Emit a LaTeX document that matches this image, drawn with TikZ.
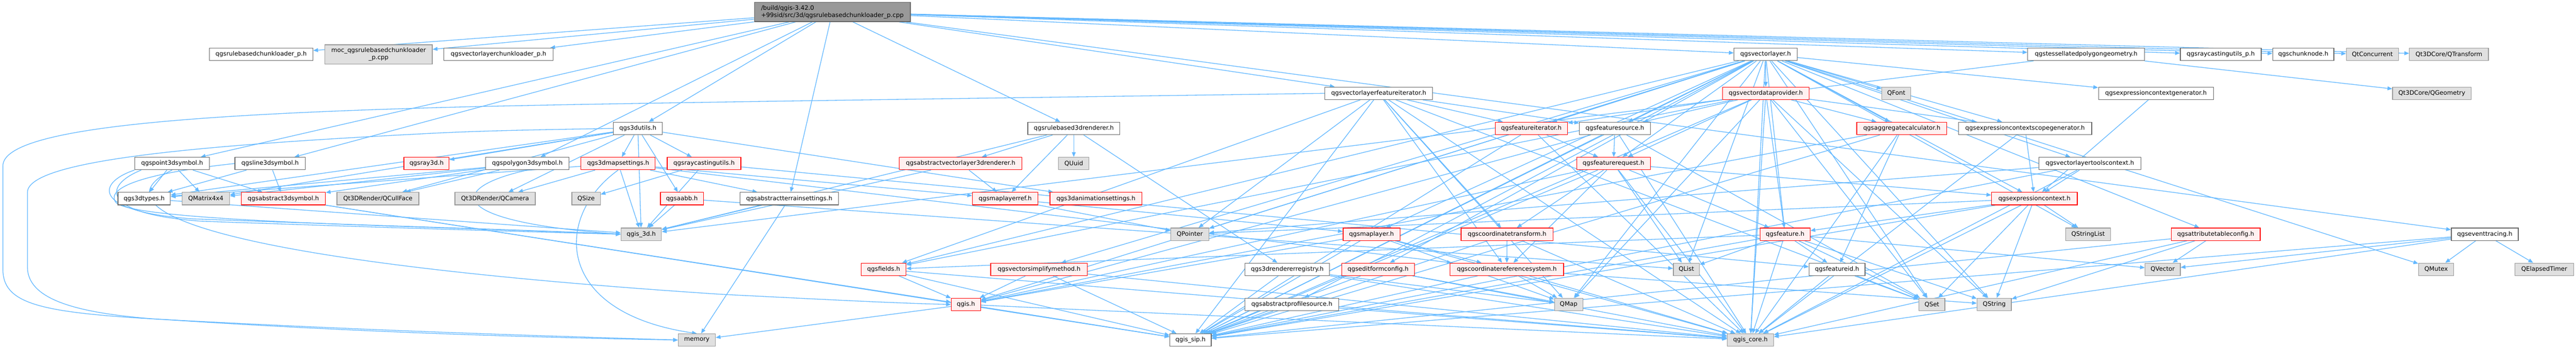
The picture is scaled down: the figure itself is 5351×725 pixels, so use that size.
\documentclass[tikz,border=0pt]{standalone}
\usepackage{fontspec}
\setmainfont{DejaVu Sans}
\usetikzlibrary{arrows.meta}
\definecolor{edgec}{HTML}{63B8FF}
\definecolor{gfill}{HTML}{E0E0E0}
\definecolor{rfill}{HTML}{FFF0F0}
\definecolor{gforty}{HTML}{666666}
\definecolor{gsixty}{HTML}{999999}
\pgfdeclarelayer{bg}
\pgfsetlayers{bg,main}
\newcommand\nd[6]{\node[#1,minimum width={#4-#3}] (#2) at ({(#3+#4)/2},#5) {#6};}
\newcommand\ed[2]{\foreach \tg in {#2} {\draw[edg] (#1) -- (\tg);}}
\begin{document}
\begin{tikzpicture}[x=1pt,y=-1pt,
  base/.style={rectangle,inner sep=0pt,minimum height=26pt,line width=1.3pt,font=\fontsize{12.6}{15}\selectfont},
  wn/.style={base,draw=gforty,fill=white},
  rn/.style={base,draw=red,fill=rfill},
  gn/.style={base,draw=gsixty,fill=gfill},
  mn/.style={base,draw=gforty,fill=gsixty,minimum height=40pt,align=left},
  edg/.style={draw=edgec,line width=1.4pt,-{Triangle[length=10pt,width=8pt]}}]
\useasboundingbox (0,0) rectangle (5351,725);
% row 0
\nd{mn}{main}{1567}{1891}{25}{/build/qgis-3.42.0\\+99sid/src/3d/qgsrulebasedchunkloader\_p.cpp}
% row 1
\nd{wn}{rbclh}{435}{650}{113}{qgsrulebasedchunkloader\_p.h}
\nd{gn,minimum height=40pt,align=center}{moc}{675}{898}{113}{moc\_qgsrulebasedchunkloader\\\_p.cpp}
\nd{wn}{vlcl}{922}{1149}{113}{qgsvectorlayerchunkloader\_p.h}
\nd{wn}{vlayer}{3602}{3733}{113}{qgsvectorlayer.h}
\nd{wn}{tess}{4212}{4455}{113}{qgstessellatedpolygongeometry.h}
\nd{wn}{rcup}{4529}{4697}{113}{qgsraycastingutils\_p.h}
\nd{wn}{chunknode}{4721}{4848}{113}{qgschunknode.h}
\nd{gn}{qtconc}{4874}{4982}{113}{QtConcurrent}
\nd{gn}{qtransform}{5005}{5169}{113}{Qt3DCore/QTransform}
% row 2
\nd{wn}{vlfi}{2752}{2976}{194}{qgsvectorlayerfeatureiterator.h}
\nd{rn}{vdp}{3578}{3758}{194}{qgsvectordataprovider.h}
\nd{gn}{qfont}{3909}{3969}{194}{QFont}
\nd{wn}{ectxgen}{4359}{4598}{194}{qgsexpressioncontextgenerator.h}
\nd{gn}{qgeom}{4970}{5133}{194}{Qt3DCore/QGeometry}
% row 3
\nd{wn}{utils3d}{1274}{1376}{267}{qgs3dutils.h}
\nd{wn}{rb3dr}{2135}{2326}{267}{qgsrulebased3drenderer.h}
\nd{rn}{fiter}{3106}{3256}{267}{qgsfeatureiterator.h}
\nd{wn}{fsrc}{3281}{3428}{267}{qgsfeaturesource.h}
\nd{rn}{aggcalc}{3857}{4044}{267}{qgsaggregatecalculator.h}
\nd{wn}{escopegen}{4068}{4345}{267}{qgsexpressioncontextscopegenerator.h}
% row 4
\nd{wn}{point3d}{280}{435}{340}{qgspoint3dsymbol.h}
\nd{wn}{line3d}{488}{634}{340}{qgsline3dsymbol.h}
\nd{rn}{ray3d}{839}{933}{340}{qgsray3d.h}
\nd{wn}{poly3d}{1009}{1182}{340}{qgspolygon3dsymbol.h}
\nd{rn}{mapset}{1207}{1361}{340}{qgs3dmapsettings.h}
\nd{rn}{rcu}{1386}{1539}{340}{qgsraycastingutils.h}
\nd{rn}{avl3dr}{1868}{2123}{340}{qgsabstractvectorlayer3drenderer.h}
\nd{gn}{quuid}{2199}{2262}{340}{QUuid}
\nd{rn}{freq}{3275}{3428}{340}{qgsfeaturerequest.h}
\nd{wn}{vltctx}{4235}{4447}{340}{qgsvectorlayertoolscontext.h}
% row 5
\nd{wn}{types3d}{245}{354}{413}{qgs3dtypes.h}
\nd{gn}{qmatrix}{378}{477}{413}{QMatrix4x4}
\nd{rn}{abs3dsym}{501}{676}{413}{qgsabstract3dsymbol.h}
\nd{gn}{qcullface}{700}{870}{413}{Qt3DRender/QCullFace}
\nd{gn}{qcamera}{945}{1112}{413}{Qt3DRender/QCamera}
\nd{gn}{qsize}{1188}{1247}{413}{QSize}
\nd{rn}{aabb}{1372}{1461}{413}{qgsaabb.h}
\nd{wn}{absterrain}{1537}{1742}{413}{qgsabstractterrainsettings.h}
\nd{rn}{mlref}{2020}{2156}{413}{qgsmaplayerref.h}
\nd{rn}{anim}{2181}{2372}{413}{qgs3danimationsettings.h}
\nd{rn}{ectx}{4137}{4315}{413}{qgsexpressioncontext.h}
% row 6
\nd{gn}{qgis3d}{1290}{1374}{487}{qgis\_3d.h}
\nd{gn}{qpointer}{2432}{2511}{487}{QPointer}
\nd{rn}{maplayer}{2790}{2908}{487}{qgsmaplayer.h}
\nd{rn}{ctrans}{3035}{3226}{487}{qgscoordinatetransform.h}
\nd{rn}{feature}{3656}{3760}{487}{qgsfeature.h}
\nd{gn}{qstringlist}{4291}{4384}{487}{QStringList}
\nd{rn}{attrcfg}{4510}{4695}{487}{qgsattributetableconfig.h}
\nd{wn}{evtrace}{5092}{5231}{487}{qgseventtracing.h}
% row 7
\nd{rn}{fields}{1789}{1882}{560}{qgsfields.h}
\nd{rn}{vsimp}{2058}{2259}{560}{qgsvectorsimplifymethod.h}
\nd{wn}{rendreg}{2586}{2762}{560}{qgs3drendererregistry.h}
\nd{rn}{efc}{2787}{2938}{560}{qgseditformconfig.h}
\nd{rn}{crs}{3012}{3248}{560}{qgscoordinatereferencesystem.h}
\nd{gn}{qlist}{3476}{3530}{560}{QList}
\nd{wn}{fid}{3758}{3874}{560}{qgsfeatureid.h}
\nd{gn}{qvector}{4456}{4529}{560}{QVector}
\nd{gn}{qmutex}{5024}{5097}{560}{QMutex}
\nd{gn}{qelapsed}{5224}{5346}{560}{QElapsedTimer}
% row 8
\nd{rn}{qgish}{1976}{2037}{633}{qgis.h}
\nd{wn}{aprof}{2586}{2781}{633}{qgsabstractprofilesource.h}
\nd{gn}{qmap}{3229}{3288}{633}{QMap}
\nd{gn}{qset}{3986}{4040}{633}{QSet}
\nd{gn}{qstring}{4107}{4178}{633}{QString}
% row 9
\nd{gn}{memory}{1409}{1486}{707}{memory}
\nd{wn}{qgissip}{2430}{2516}{707}{qgis\_sip.h}
\nd{gn}{qgiscore}{3588}{3684}{707}{qgis\_core.h}
\begin{pgfonlayer}{bg}
\ed{main}{rbclh,moc,vlcl,vlayer,tess,rcup,chunknode,qtconc,qtransform,vlfi,utils3d,rb3dr,point3d,line3d,poly3d,absterrain,evtrace}
\ed{vlayer}{vdp,qfont,ectxgen,aggcalc,escopegen,vltctx,feature,fsrc,fiter,freq,maplayer,fields,efc,attrcfg,vsimp,aprof,ectx,qset,qstringlist,qlist,qmap,qmutex,qpointer,qgiscore,qgissip,qgish,qstring}
\ed{vdp}{feature,fiter,freq,fsrc,aggcalc,escopegen,fields,qset,qmap,qgiscore,qgissip,qstring}
\ed{ectxgen}{ectx}
\ed{escopegen}{ectx,qgiscore}
\ed{aggcalc}{fid,qgiscore,qgissip,qgish}
\ed{vltctx}{ectx,qpointer,qgiscore,qgissip}
\ed{ectx}{qset,qstring,qstringlist,feature,qgiscore,qgissip,qpointer}
\ed{feature}{fid,fields,qvector,qset,qstring,qlist,qgiscore,qgissip}
\ed{fid}{qset,qgiscore}
\ed{freq}{ctrans,crs,ectx,feature,qlist,qgiscore,qgissip,qgish}
\ed{fiter}{freq,qgiscore,qgissip}
\ed{fsrc}{freq,qgiscore,qgissip,qset,qgish}
\ed{vlfi}{fiter,fsrc,fields,ctrans,crs,qmap,qset,qpointer,qgiscore,qgissip}
\ed{ctrans}{crs,qgiscore,qgissip}
\ed{crs}{qmap,qgiscore,qgissip,qstring}
\ed{maplayer}{crs,qmap,qgiscore,qgissip,qgish}
\ed{efc}{qmap,qgiscore,qgissip}
\ed{rendreg}{qmap,qgiscore,qgissip}
\ed{aprof}{qgissip,qgiscore}
\ed{mlref}{qpointer,maplayer}
\ed{avl3dr}{mlref,qgis3d}
\ed{rb3dr}{avl3dr,quuid,mlref,qgis3d,rendreg}
\ed{mapset}{qcamera,qgis3d,absterrain,mlref,crs,types3d}
\ed{utils3d}{mapset,rcu,aabb,ray3d,types3d,qmatrix,qcullface,qgis3d,anim,qcamera}
\ed{rcu}{qsize,qgis3d,fid}
\ed{aabb}{qgis3d,qlist}
\ed{absterrain}{qgis3d,memory}
\ed{types3d}{qgis3d}
\ed{abs3dsym}{qgish,qgissip}
\ed{poly3d}{abs3dsym,types3d,qcullface,qmatrix}
\ed{line3d}{abs3dsym,types3d}
\ed{point3d}{abs3dsym,types3d,qmatrix}
\ed{fields}{qgish,qgissip,qgiscore}
\ed{vsimp}{qgish,qgissip,qgiscore}
\ed{qgish}{qgissip,qgiscore,memory}
\ed{evtrace}{qvector,qmutex,qelapsed,qgiscore,qgissip}
\ed{attrcfg}{qvector,qgiscore,qgissip,qstring}
\ed{tess}{qgeom,qgis3d}
% curved connectors routed like the reference
\draw[edg] (vlfi.west) .. controls (2000,205) and (1200,215) .. (900,224)
  .. controls (350,240) and (6,270) .. (6,345) -- (6,560)
  .. controls (6,630) and (80,648) .. (300,662)
  .. controls (800,690) and (1200,700) .. (memory.west);
\draw[edg] (utils3d.west) .. controls (1100,270) and (1000,272) .. (900,277)
  .. controls (450,300) and (57,330) .. (57,400) -- (57,555)
  .. controls (57,620) and (150,650) .. (320,663)
  .. controls (800,695) and (1200,703) .. (memory.west);
\draw[edg] (point3d.south west) .. controls (200,380) and (190,440) .. (400,455)
  .. controls (800,470) and (1100,478) .. (qgis3d.west);
\draw[edg] ([xshift=14pt]point3d.south west) .. controls (215,385) and (205,445) .. (420,460)
  .. controls (820,474) and (1100,482) .. (qgis3d.west);
\draw[edg] (line3d.west) .. controls (300,360) and (220,390) .. (240,420)
  .. controls (270,462) and (900,470) .. (qgis3d.west);
\draw[edg] (point3d.south) .. controls (200,430) and (400,540) .. (1500,612)
  .. controls (1700,622) and (1850,630) .. (qgish.west);
\draw[edg] (poly3d.south) .. controls (930,390) and (920,460) .. (qgis3d.west);
\draw[edg] (mapset.south) .. controls (1150,450) and (1150,650) .. (memory.north);
\end{pgfonlayer}
\end{tikzpicture}
\end{document}
